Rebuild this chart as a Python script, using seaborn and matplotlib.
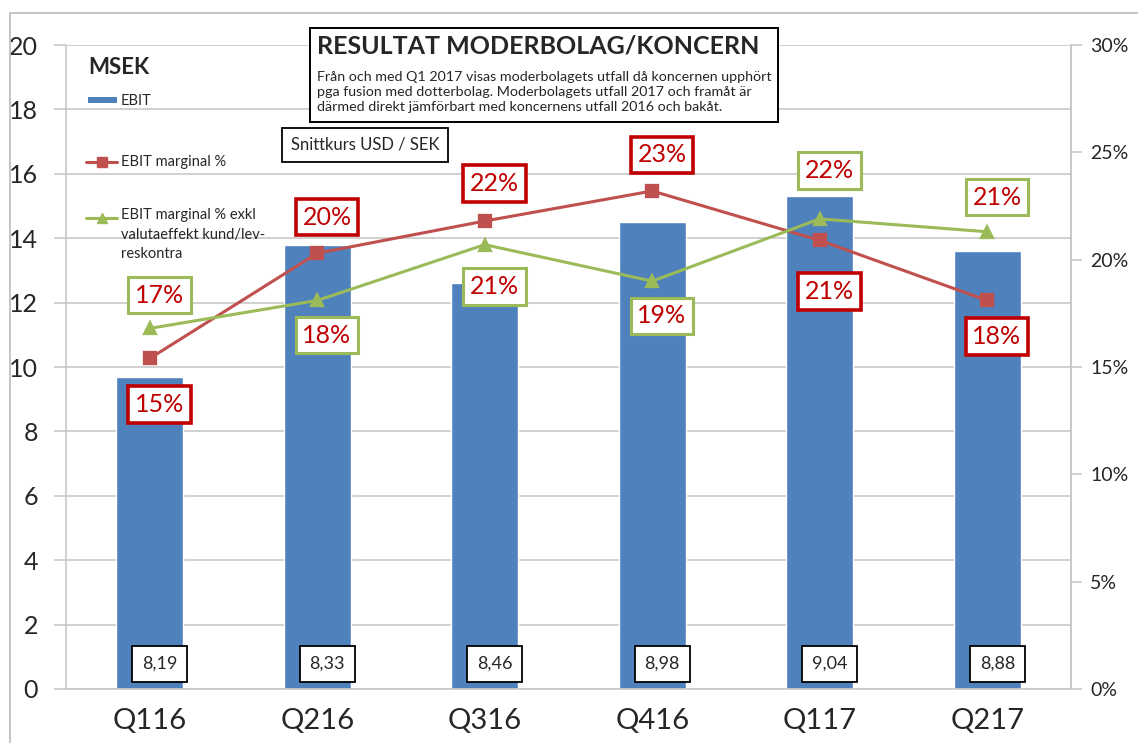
"""Resultat moderbolag/koncern - EBIT (staplar) och EBIT-marginal (linjer)."""

import matplotlib

matplotlib.use("Agg")
import matplotlib.pyplot as plt
import pandas as pd
import seaborn as sns
from matplotlib.lines import Line2D
from matplotlib.patches import Rectangle
from matplotlib.ticker import FixedLocator, PercentFormatter

# --- data ---
quarters = ["Q116", "Q216", "Q316", "Q416", "Q117", "Q217"]
ebit = [9.7, 13.8, 12.6, 14.5, 15.3, 13.6]
marginal = [15.4, 20.3, 21.8, 23.2, 20.9, 18.1]
marginal_exkl = [16.8, 18.1, 20.7, 19.0, 21.9, 21.3]
marginal_lbl = ["15%", "20%", "22%", "23%", "21%", "18%"]
exkl_lbl = ["17%", "18%", "21%", "19%", "22%", "21%"]
usd_sek = ["8,19", "8,33", "8,46", "8,98", "9,04", "8,88"]

# etikettens placering (punkter) relativt markeringen
marg_off = [-33, 26, 27, 26, -37, -26]
exkl_off = [24, -25, -30, -25, 35, 25]

BLUE = "#4F81BD"
RED = "#C0504D"
GREEN = "#9BBB59"
DARKRED = "#C00000"
GRID = "#C8C8C8"
W, H = 1138, 743

sns.set_theme(style="white")
plt.rcParams["font.family"] = ["Lato", "DejaVu Sans"]

df = pd.DataFrame({"q": quarters, "ebit": ebit, "m": marginal, "mx": marginal_exkl})

fig = plt.figure(figsize=(W / 100, H / 100), dpi=100)
ax = fig.add_axes([0.058, 0.0727, 0.8831, 0.8667])

sns.barplot(data=df, x="q", y="ebit", color=BLUE, saturation=1, width=0.4, ax=ax)
ax.set_ylim(0, 20)
ax.set_yticks(range(0, 21, 2))
ax.set_axisbelow(True)
ax.yaxis.grid(True, color=GRID, lw=1.2)
ax.set_xlabel("")
ax.set_ylabel("")
ax.tick_params(axis="y", labelsize=18, length=9, direction="out", color=GRID, width=1.2, pad=11)
ax.tick_params(axis="x", which="major", labelsize=21, length=0, pad=14)
ax.xaxis.set_minor_locator(FixedLocator([i - 0.5 for i in range(len(quarters) + 1)]))
ax.tick_params(axis="x", which="minor", length=9, color=GRID, width=1.2, direction="out")
for s in ["left", "bottom", "right"]:
    ax.spines[s].set_color(GRID)
    ax.spines[s].set_linewidth(1.2)
ax.spines["top"].set_visible(False)

# snittkurs USD/SEK i staplarnas fot
for i, v in enumerate(usd_sek):
    ax.text(i + 0.06, 0.78, v, ha="center", va="center", fontsize=13, zorder=5,
            bbox=dict(boxstyle="square,pad=0.55", fc="white", ec="black", lw=1.3))

ax2 = ax.twinx()
sns.pointplot(data=df, x="q", y="m", color=RED, marker="s", markersize=8,
              linewidth=2.2, errorbar=None, ax=ax2)
sns.pointplot(data=df, x="q", y="mx", color=GREEN, marker="^", markersize=8,
              linewidth=2.2, errorbar=None, ax=ax2)
ax2.set_ylim(0, 30)
ax2.set_yticks(range(0, 31, 5))
ax2.yaxis.set_major_formatter(PercentFormatter(decimals=0))
ax2.set_ylabel("")
ax2.set_xlabel("")
ax2.tick_params(axis="y", labelsize=14, length=8, color=GRID, width=1.2, pad=6)
for s in ["left", "bottom", "top"]:
    ax2.spines[s].set_visible(False)
ax2.spines["right"].set_color(GRID)
ax2.spines["right"].set_linewidth(1.2)

for i in range(len(quarters)):
    ax2.annotate(marginal_lbl[i], (i, marginal[i]), xytext=(7, marg_off[i]),
                 textcoords="offset points", ha="center", va="center", fontsize=18,
                 color=DARKRED, zorder=6,
                 bbox=dict(boxstyle="square,pad=0.27", fc="white", ec=DARKRED, lw=2.6))
    ax2.annotate(exkl_lbl[i], (i, marginal_exkl[i]), xytext=(7, exkl_off[i]),
                 textcoords="offset points", ha="center", va="center", fontsize=18,
                 color=DARKRED, zorder=6,
                 bbox=dict(boxstyle="square,pad=0.27", fc="white", ec=GREEN, lw=2.2))


def fx(px):
    return px / W


def fy(px):
    return 1 - px / H


# legend (ritad för hand, som i Excel-originalet)
fig.text(fx(88), fy(68), "MSEK", fontsize=16, fontweight="bold", va="center")
fig.patches.append(Rectangle((fx(88), fy(103)), fx(29), 6 / H, transform=fig.transFigure,
                             fc=BLUE, ec="none"))
fig.add_artist(Line2D([fx(86), fx(102), fx(117)], [fy(162)] * 3, transform=fig.transFigure,
                      color=RED, lw=2.2, marker="s", markersize=7, markevery=[1]))
fig.add_artist(Line2D([fx(86), fx(102), fx(117)], [fy(218)] * 3, transform=fig.transFigure,
                      color=GREEN, lw=2.2, marker="^", markersize=7, markevery=[1]))
fig.text(fx(121), fy(101), "EBIT", fontsize=10.5, va="center")
fig.text(fx(121), fy(162), "EBIT marginal %", fontsize=10.5, va="center")
fig.text(fx(121), fy(208), "EBIT marginal % exkl\nvalutaeffekt kund/lev-\nreskontra",
         fontsize=10.5, va="top", linespacing=1.5)

# rubrikruta
fig.patches.append(Rectangle((fx(310), fy(122)), fx(468), 94 / H,
                             transform=fig.transFigure, fc="white", ec="black", lw=1.4, zorder=3))
fig.text(fx(317), fy(46), "RESULTAT MODERBOLAG/KONCERN", fontsize=18,
         fontweight="bold", va="center", zorder=4)
body = ("Från och med Q1 2017 visas moderbolagets utfall då koncernen upphört\n"
        "pga fusion med dotterbolag. Moderbolagets utfall 2017 och framåt är\n"
        "därmed direkt jämförbart med koncernens utfall 2016 och bakåt.")
fig.text(fx(317), fy(92), body, fontsize=10.3, va="center", linespacing=1.3, zorder=4)

fig.text(fx(365), fy(145), "Snittkurs USD / SEK", fontsize=12, ha="center",
         va="center", zorder=4,
         bbox=dict(boxstyle="square,pad=0.55", fc="white", ec="black", lw=1.3))

# diagramramen
fig.add_artist(Line2D([fx(10), fx(10), 1.0], [0, fy(13), fy(13)],
                      transform=fig.transFigure, color="#BBBBBB", lw=1.2))

fig.savefig("out.png", dpi=100)
